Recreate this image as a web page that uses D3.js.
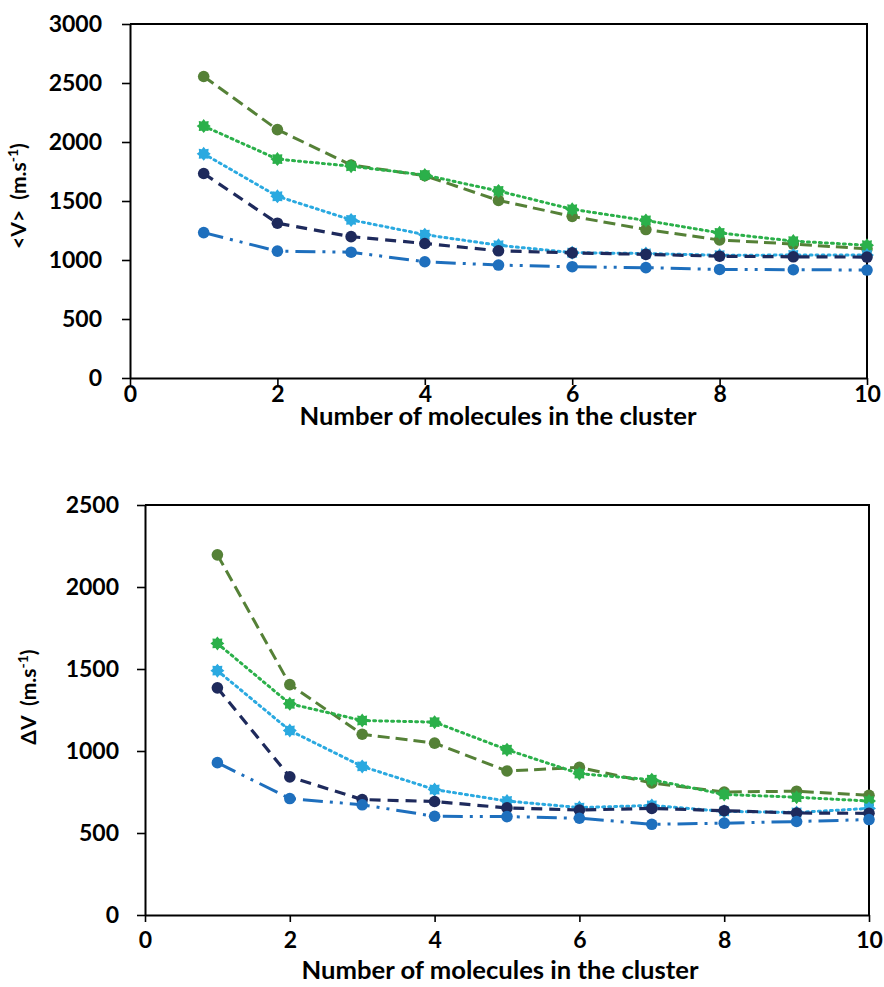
<!DOCTYPE html>
<html>
<head>
<meta charset="utf-8">
<script src="https://cdn.jsdelivr.net/npm/d3@7"></script>
<style>
  html, body { margin: 0; padding: 0; background: #fff; }
  svg { display: block; }
  text { font-family: Lato, "Open Sans", sans-serif; font-weight: bold; fill: #000; white-space: pre; }
</style>
</head>
<body>
<svg id="chart" width="884" height="987"></svg>
<script>
// ---------- data ----------
const clusterSizes = [1, 2, 3, 4, 5, 6, 7, 8, 9, 10];
const xTicks = [0, 2, 4, 6, 8, 10];

const seriesNames = ["olive", "green", "lightBlue", "navy", "blue"];

// top panel: mean velocity <V> (m.s-1)
const topOlive     = [2555, 2105, 1805, 1715, 1505, 1370, 1258, 1170, 1135, 1095];
const topGreen     = [2135, 1855, 1795, 1720, 1585, 1430, 1335, 1230, 1160, 1125];
const topLightBlue = [1900, 1540, 1340, 1215, 1125, 1062, 1055, 1040, 1042, 1042];
const topNavy      = [1733, 1312, 1198, 1140, 1078, 1060, 1048, 1032, 1027, 1025];
const topBlue      = [1232, 1075, 1066, 985, 957, 943, 935, 920, 918, 915];
const topYTicks    = [0, 500, 1000, 1500, 2000, 2500, 3000];

// bottom panel: velocity spread ΔV (m.s-1)
const botOlive     = [2196, 1405, 1102, 1048, 878, 900, 805, 750, 755, 730];
const botGreen     = [1656, 1288, 1186, 1176, 1008, 862, 825, 735, 718, 695];
const botLightBlue = [1490, 1125, 906, 765, 695, 655, 668, 632, 625, 650];
const botNavy      = [1385, 842, 704, 692, 653, 640, 650, 636, 622, 620];
const botBlue      = [929, 710, 672, 602, 600, 590, 553, 560, 570, 582];
const botYTicks    = [0, 500, 1000, 1500, 2000, 2500];

const xTitle = "Number of molecules in the cluster";

// ---------- styles ----------
const styles = {
  olive:     { color: "#558137", dash: "12,6",              width: 3,   marker: "circle" },
  green:     { color: "#2bb04a", dash: "2,4",               width: 3,   marker: "star"   },
  lightBlue: { color: "#2aa9e0", dash: "2,4",               width: 3,   marker: "star"   },
  navy:      { color: "#1e2a5c", dash: "11,7",              width: 3.2, marker: "circle" },
  blue:      { color: "#1e6fbd", dash: "20,7,3,7,3,7",      width: 3,   marker: "circle" }
};

const svg = d3.select("#chart");

function starPath(rOut, rIn, n) {
  const pts = [];
  for (let i = 0; i < 2 * n; i++) {
    const a = Math.PI * i / n;
    const r = i % 2 === 0 ? rOut : rIn;
    pts.push([r * Math.sin(a), -r * Math.cos(a)]);
  }
  return "M" + pts.map(p => p.join(",")).join("L") + "Z";
}

function panel(cfg) {
  const g = svg.append("g");
  const x = d3.scaleLinear().domain([0, 10]).range([cfg.left, cfg.right]);
  const y = d3.scaleLinear().domain([0, cfg.yMax]).range([cfg.bottom, cfg.top]);

  // frame (top and right)
  g.append("path")
    .attr("d", `M${cfg.left},${cfg.top}H${cfg.right}V${cfg.bottom}`)
    .attr("fill", "none").attr("stroke", "#000").attr("stroke-width", 2);

  const fmt = d3.format("d");
  // x axis
  const xa = g.append("g").attr("transform", `translate(0,${cfg.bottom})`)
    .call(d3.axisBottom(x).tickValues(xTicks).tickFormat(fmt).tickSize(7).tickSizeOuter(0).tickPadding(cfg.xPad));
  // y axis
  const ya = g.append("g").attr("transform", `translate(${cfg.left},0)`)
    .call(d3.axisLeft(y).tickValues(cfg.yTicks).tickFormat(fmt).tickSize(8).tickSizeOuter(0).tickPadding(cfg.yPad));
  [xa, ya].forEach(a => {
    a.select(".domain").attr("stroke", "#000").attr("stroke-width", 2);
    a.selectAll(".tick line").attr("stroke", "#000").attr("stroke-width", 1.6);
    a.selectAll(".tick text").style("font-size", "23px").attr("fill", "#000");
  });

  // x title
  g.append("text").attr("x", cfg.xTitleX).attr("y", cfg.xTitleY)
    .attr("text-anchor", "middle").style("font-size", "24px")
    .attr("textLength", 397).attr("lengthAdjust", "spacingAndGlyphs").text(xTitle);

  // y title
  const yt = g.append("text")
    .attr("transform", `translate(${cfg.yTitleX},${cfg.yTitleY}) rotate(-90)`)
    .attr("text-anchor", "middle").style("font-size", "21px");
  yt.append("tspan").text(cfg.yTitle + "  (m.s");
  yt.append("tspan").attr("dy", -8).style("font-size", "14px").text("-1");
  yt.append("tspan").attr("dy", 8).text(")");

  const line = d3.line().x((d, i) => x(clusterSizes[i])).y(d => y(d));

  seriesNames.forEach(name => {
    const st = styles[name];
    const vals = cfg.data[name];
    g.append("path").datum(vals)
      .attr("d", line)
      .attr("fill", "none")
      .attr("stroke", st.color)
      .attr("stroke-width", st.width)
      .attr("stroke-dasharray", st.dash)
      .attr("stroke-linecap", st.dash === "2,4" ? "round" : "butt");
    const m = g.append("g");
    vals.forEach((v, i) => {
      if (st.marker === "circle") {
        m.append("circle").attr("cx", x(clusterSizes[i])).attr("cy", y(v))
          .attr("r", 5.8).attr("fill", st.color);
      } else {
        m.append("path").attr("d", starPath(7, 5, 8))
          .attr("transform", `translate(${x(clusterSizes[i])},${y(v)})`)
          .attr("fill", st.color);
      }
    });
  });
}

panel({
  left: 130, right: 867, top: 24, bottom: 378, yMax: 3000,
  yTicks: topYTicks, xPad: 1, yPad: 20,
  xTitleX: 498, xTitleY: 425, yTitleX: 26, yTitleY: 196, yTitle: "<V>",
  data: { olive: topOlive, green: topGreen, lightBlue: topLightBlue, navy: topNavy, blue: topBlue }
});

panel({
  left: 145, right: 869, top: 505, bottom: 915, yMax: 2500,
  yTicks: botYTicks, xPad: 10, yPad: 18,
  xTitleX: 500, xTitleY: 979, yTitleX: 36, yTitleY: 697, yTitle: "ΔV",
  data: { olive: botOlive, green: botGreen, lightBlue: botLightBlue, navy: botNavy, blue: botBlue }
});
</script>
</body>
</html>
